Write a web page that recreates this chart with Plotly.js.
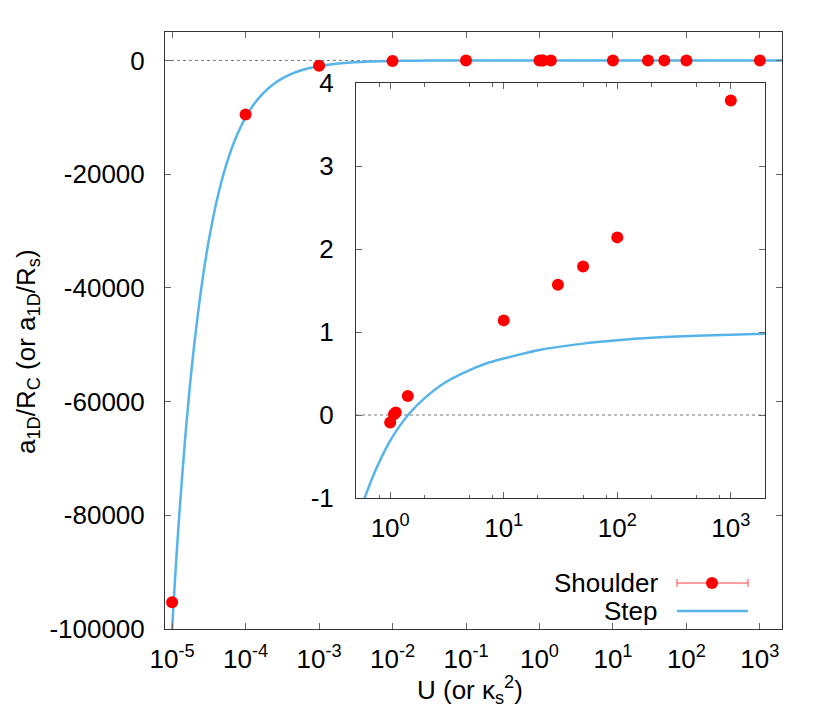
<!DOCTYPE html>
<html>
<head>
<meta charset="utf-8">
<script src="https://cdn.plot.ly/plotly-3.0.1.min.js"></script>
<style>
  html, body { margin: 0; padding: 0; background: #fff; }
  #chart { width: 830px; height: 726px; }
</style>
</head>
<body>
<div id="chart"></div>
<script>
// measured points (Shoulder)
const shoulderU = [1e-5, 1e-4, 1e-3, 1e-2, 0.1, 1.0, 1.08, 1.12, 1.43, 10, 30, 50, 100, 1000];
const shoulderA = [-95300, -9500, -950, -100, -10, -0.09, 0.01, 0.03, 0.23, 1.14, 1.57, 1.79, 2.14, 3.79];

// step curve
const stepU = [9.5e-6, 1e-5, 1.1e-5, 1.25e-5, 1.5e-5, 1.75e-5, 2e-5, 2.5e-5, 3e-5, 3.5e-5, 4e-5, 5e-5, 6e-5, 7e-5,
               8.5e-5, 1e-4, 1.25e-4, 1.5e-4, 2e-4, 2.5e-4, 3e-4, 4e-4, 5e-4, 7e-4, 1e-3, 1.5e-3, 2e-3, 3e-3,
               5e-3, 1e-2, 2e-2, 5e-2, 0.1, 1, 10, 100, 2000];
const stepA = [-105000, -100000, -90900, -80000, -66700, -57100, -50000, -40000, -33300, -28600, -25000, -20000, -16700, -14300,
               -11800, -10000, -8000, -6670, -5000, -4000, -3330, -2500, -2000, -1430, -1000, -670, -500, -330,
               -200, -100, -50, -20, -10, -0.3, 0.7, 0.9, 0.98];

// step curve
const insetU = [0.55, 0.6, 0.7, 0.8, 1, 1.2, 1.5, 2, 3, 5, 7, 10, 20, 50, 100, 200, 500, 1000, 2000];
const insetA = [-1.14, -0.99, -0.75, -0.57, -0.31, -0.14, 0.03, 0.2, 0.385, 0.54, 0.62, 0.68, 0.78, 0.86, 0.9, 0.93, 0.955, 0.968, 0.978];

const mainXTicks = [1e-5, 1e-4, 1e-3, 1e-2, 1e-1, 1, 10, 100, 1000];
const mainXText = ['-5', '-4', '-3', '-2', '-1', '0', '1', '2', '3'].map(e => '10<sup>' + e + '</sup>');
const mainYTicks = [0, -20000, -40000, -60000, -80000, -100000];
const insetXTicks = [1, 10, 100, 1000];
const insetXText = ['0', '1', '2', '3'].map(e => '10<sup>' + e + '</sup>');
const insetXMinor = [0.8, 2, 5, 8, 20, 50, 80, 200, 500, 800];
const insetYTicks = [-1, 0, 1, 2, 3, 4];
const insetXRange = [0.5, 2000];

const red = '#ff0000';
const blue = '#56b4e9';
const font = { family: 'Liberation Sans, Arial, sans-serif', size: 26, color: '#000' };

// pixel -> paper helpers (main frame: 165..782 x, 32..629 y)
const px = v => (v - 165) / 617;
const py = v => (629 - v) / 597;

const traces = [
    // dotted zero line of the inset
    { x: insetXRange, y: [0, 0], xaxis: 'x2', yaxis: 'y2', mode: 'lines',
      line: { color: '#777', width: 1, dash: 'dot' }, hoverinfo: 'skip' },
    { x: stepU, y: stepA, xaxis: 'x', yaxis: 'y', mode: 'lines',
      line: { color: blue, width: 2.5, shape: 'spline', smoothing: 0.8 }, hoverinfo: 'skip' },
    { x: shoulderU, y: shoulderA, xaxis: 'x', yaxis: 'y', mode: 'markers',
      marker: { color: red, size: 12 } },
    { x: insetU, y: insetA, xaxis: 'x2', yaxis: 'y2', mode: 'lines',
      line: { color: blue, width: 2.5, shape: 'spline', smoothing: 0.8 }, hoverinfo: 'skip' },
    { x: shoulderU, y: shoulderA, xaxis: 'x2', yaxis: 'y2', mode: 'markers',
      marker: { color: red, size: 12 } }
];

const axisBase = {
    showgrid: false, zeroline: false, showline: true, linecolor: '#333', linewidth: 1,
    mirror: 'ticks', ticks: 'inside', ticklen: 6, tickcolor: '#666', tickwidth: 1,
    tickfont: font, tickmode: 'array'
};

const layout = {
    width: 830, height: 726,
    margin: { l: 165, r: 48, t: 32, b: 97 },
    paper_bgcolor: '#fff', plot_bgcolor: '#fff',
    showlegend: false,
    font: font,
    xaxis: Object.assign({}, axisBase, {
        type: 'log', range: [Math.log10(8e-6), Math.log10(2000)], domain: [0, 1],
        tickvals: mainXTicks, ticktext: mainXText, ticklabelstandoff: 7, anchor: 'y'
    }),
    yaxis: Object.assign({}, axisBase, {
        range: [-100000, 5000], domain: [0, 1],
        tickvals: mainYTicks, ticktext: mainYTicks.map(String), ticklabelstandoff: 14, anchor: 'x'
    }),
    xaxis2: Object.assign({}, axisBase, {
        type: 'log', range: insetXRange.map(Math.log10), domain: [px(356), px(765)],
        tickvals: insetXTicks, ticktext: insetXText, ticklabelstandoff: 7, anchor: 'y2',
        minor: { tickmode: 'array', tickvals: insetXMinor, ticks: 'inside', ticklen: 3.5, tickcolor: '#666' }
    }),
    yaxis2: Object.assign({}, axisBase, {
        range: [-1, 4], domain: [py(498), py(83)],
        tickvals: insetYTicks, ticktext: insetYTicks.map(String), ticklabelstandoff: 16, anchor: 'x2'
    }),
    shapes: [
        // main zero line
        { type: 'line', xref: 'x domain', yref: 'y', x0: 0, x1: 1, y0: 0, y1: 0,
          line: { color: '#777', width: 1, dash: 'dot' }, layer: 'below' },
        // legend samples
        { type: 'line', xref: 'paper', yref: 'paper', x0: px(677), x1: px(748), y0: py(583), y1: py(583),
          line: { color: '#ff4040', width: 1 } },
        { type: 'line', xref: 'paper', yref: 'paper', x0: px(677), x1: px(677), y0: py(579), y1: py(587),
          line: { color: '#ff4040', width: 1 } },
        { type: 'line', xref: 'paper', yref: 'paper', x0: px(748), x1: px(748), y0: py(579), y1: py(587),
          line: { color: '#ff4040', width: 1 } },
        { type: 'circle', xref: 'paper', yref: 'paper', xsizemode: 'pixel', ysizemode: 'pixel',
          xanchor: px(712), yanchor: py(583), x0: -6, x1: 6, y0: -6, y1: 6,
          fillcolor: red, line: { width: 0 } },
        { type: 'line', xref: 'paper', yref: 'paper', x0: px(677), x1: px(748), y0: py(611), y1: py(611),
          line: { color: blue, width: 2.5 } }
    ],
    annotations: [
        { text: 'Shoulder', xref: 'paper', yref: 'paper', x: px(660), y: py(583),
          xanchor: 'right', yanchor: 'middle', showarrow: false, font: font },
        { text: 'Step', xref: 'paper', yref: 'paper', x: px(660), y: py(611),
          xanchor: 'right', yanchor: 'middle', showarrow: false, font: font },
        { text: 'a<sub>1D</sub>/R<sub>C</sub> (or a<sub>1D</sub>/R<sub>s</sub>)', xref: 'paper', yref: 'paper',
          x: px(27), y: py(352), textangle: -90, xanchor: 'center', yanchor: 'middle', showarrow: false, font: font },
        { text: 'U (or κ<sub>s</sub><sup>2</sup>)', xref: 'paper', yref: 'paper',
          x: px(470), y: py(690), xanchor: 'center', yanchor: 'middle', showarrow: false, font: font }
    ]
};

Plotly.newPlot('chart', traces, layout, { displayModeBar: false, staticPlot: true });
</script>
</body>
</html>
